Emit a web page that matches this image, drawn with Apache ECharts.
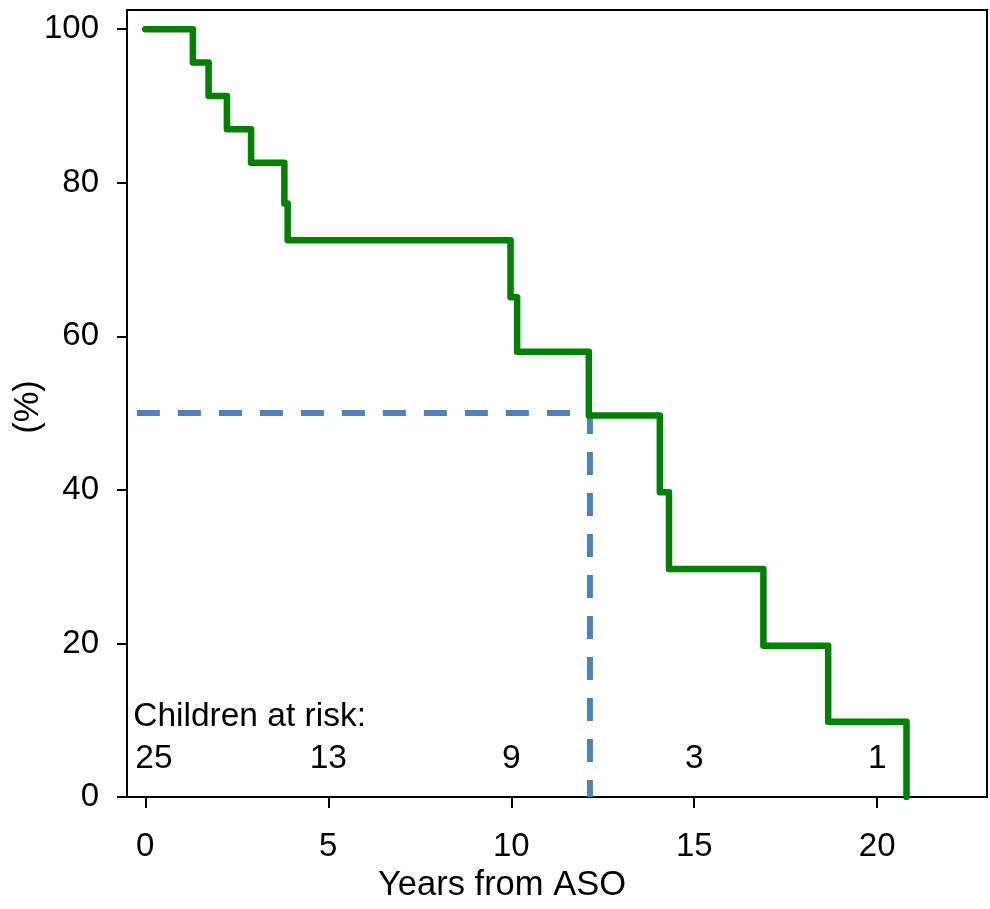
<!DOCTYPE html>
<html>
<head>
<meta charset="utf-8">
<script src="https://cdn.jsdelivr.net/npm/echarts@6/dist/echarts.min.js"></script>
<style>
html,body{margin:0;padding:0;background:#fff;}
#chart{width:990px;height:909px;}
</style>
</head>
<body>
<div id="chart"></div>
<script>
// Kaplan-Meier step data (years from ASO, % survival)
const years    = [0, 1.30, 1.73, 2.23, 2.89, 3.80, 3.89, 9.98, 10.16, 12.12, 14.06, 14.31, 16.89, 18.66, 20.80];
const survival = [100, 95.65, 91.3, 86.96, 82.6, 77.3, 72.5, 65.1, 58.0, 49.7, 39.7, 29.7, 19.7, 9.8, 0];

// Median reference lines
const medianStartX = -0.23;
const medianX = 12.15;
const medianY = 50;

// Numbers at risk
const riskYears  = [0, 5, 10, 15, 20];
const riskCounts = [25, 13, 9, 3, 1];
const riskLabelText = 'Children at risk:';

// Tick labels
const xTicks = [0, 5, 10, 15, 20];
const yTicks = [0, 20, 40, 60, 80, 100];

const FONT = 'Liberation Sans, Arial, sans-serif';
const FS_TICK = 33;
const FS_ANN = 33.5;
const FS_TITLE = 34.5;

const chart = echarts.init(document.getElementById('chart'), null, {renderer: 'canvas'});

const kmData = years.map((x, i) => [x, survival[i]]);
const medianData = [[medianStartX, medianY], [medianX, medianY], [medianX, 0]];
const riskData = riskYears.map((x, i) => {
  const item = {value: [x, 5], name: String(riskCounts[i])};
  if (i === 0) {
    item.label = {align: 'left', offset: [-10, 0]};
  }
  return item;
});

const labelBase = {show: true, position: [0, 0], formatter: p => p.name, color: '#000', opacity: 1,
  fontSize: FS_ANN, fontFamily: FONT, verticalAlign: 'middle'};

const option = {
  animation: false,
  backgroundColor: '#ffffff',
  textStyle: {fontFamily: FONT},
  grid: {
    left: 127, right: 3, top: 10, bottom: 112,
    show: true, borderColor: '#000', borderWidth: 2, backgroundColor: 'transparent'
  },
  xAxis: {
    type: 'value',
    min: -0.5, max: 23,
    axisLine: {show: true, onZero: false, lineStyle: {color: '#000', width: 2}},
    axisTick: {show: true, inside: false, length: 11, customValues: xTicks, lineStyle: {color: '#000', width: 2}},
    axisLabel: {show: true, customValues: xTicks, margin: 33, color: '#000', fontSize: FS_TICK, fontFamily: FONT},
    splitLine: {show: false}
  },
  yAxis: {
    type: 'value',
    min: 0, max: 102.5,
    axisLine: {show: true, onZero: false, lineStyle: {color: '#000', width: 2}},
    axisTick: {show: true, inside: false, length: 10, customValues: yTicks, lineStyle: {color: '#000', width: 2}},
    axisLabel: {show: true, customValues: yTicks, margin: 28, color: '#000', fontSize: FS_TICK, fontFamily: FONT},
    splitLine: {show: false}
  },
  graphic: [
    {type: 'text', x: 502, y: 885, z: 100,
     style: {text: 'Years from ASO', fill: '#000', font: FS_TITLE + 'px ' + FONT, align: 'center', verticalAlign: 'middle'}},
    {type: 'text', x: 28, y: 407, rotation: Math.PI / 2, z: 100,
     style: {text: '(%)', fill: '#000', font: FS_TITLE + 'px ' + FONT, align: 'center', verticalAlign: 'middle'}}
  ],
  series: [
    {
      type: 'line',
      data: medianData,
      symbol: 'none',
      lineStyle: {color: '#4f81bd', width: 6, type: [23, 18], cap: 'butt'},
      z: 2,
      silent: true
    },
    {
      type: 'line',
      data: kmData,
      step: 'end',
      symbol: 'none',
      lineStyle: {color: '#008000', width: 6.5, cap: 'round', join: 'round'},
      z: 3,
      silent: true
    },
    {
      type: 'scatter',
      data: riskData,
      symbolSize: 0,
      silent: true,
      itemStyle: {opacity: 1},
      label: Object.assign({}, labelBase, {align: 'center'})
    },
    {
      type: 'scatter',
      data: [{value: [-0.33, 10.5], name: riskLabelText}],
      symbolSize: 0,
      silent: true,
      itemStyle: {opacity: 1},
      label: Object.assign({}, labelBase, {align: 'left'})
    }
  ]
};

chart.setOption(option);
</script>
</body>
</html>
